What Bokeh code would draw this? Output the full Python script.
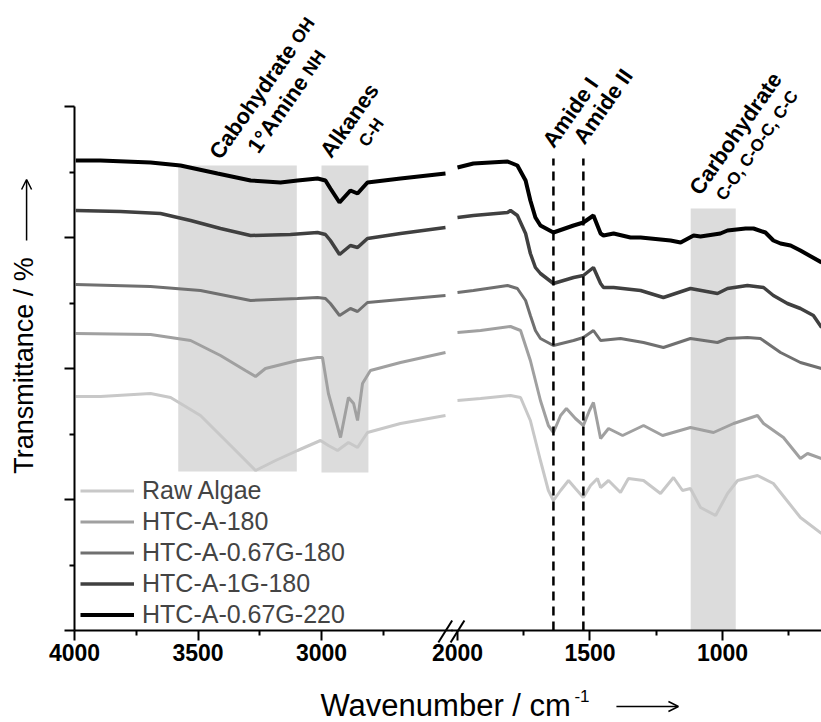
import math
from bokeh.plotting import figure
from bokeh.models import Range1d, FixedTicker, Legend, LegendItem, Label, Arrow, OpenHead, LinearAxis
from bokeh.embed import file_html
from bokeh.resources import INLINE

series_names = ["Raw Algae", "HTC-A-180", "HTC-A-0.67G-180", "HTC-A-1G-180", "HTC-A-0.67G-220"]
series_colors = ["#c8c8c8", "#a0a0a0", "#707070", "#404040", "#000000"]
series_widths = [3, 3, 3, 3.5, 4]

# ---- Raw Algae
raw_hi_wn = [3995, 3895, 3692, 3611, 3490, 3368, 3267, 3186, 3097, 3004, 2972, 2935, 2891, 2854, 2814, 2680, 2498]
raw_hi_t = [234, 234, 237, 233, 215, 185, 160, 170, 180, 190, 185, 180, 188, 183, 198, 207, 215]
raw_lo_wn = [2000, 1913, 1800, 1762, 1725, 1687, 1657, 1638, 1611, 1581, 1555, 1525, 1498, 1472, 1460, 1430,
             1385, 1355, 1298, 1234, 1185, 1151, 1121, 1083, 1026, 981, 943, 868, 808, 706, 626]
raw_lo_t = [230, 232, 235, 233, 210, 170, 140, 130, 140, 150, 142, 133, 145, 152, 143, 150,
            138, 152, 150, 137, 153, 140, 142, 123, 115, 137, 150, 155, 147, 113, 97]

# ---- HTC-A-180
a180_hi_wn = [3995, 3692, 3530, 3409, 3308, 3267, 3227, 3097, 3016, 2996, 2972, 2923, 2891, 2870, 2854, 2834, 2802, 2680, 2498]
a180_hi_t = [297, 296, 290, 275, 260, 254, 262, 270, 273, 273, 237, 193, 233, 227, 210, 247, 260, 268, 278]
a180_lo_wn = [2000, 1913, 1800, 1762, 1725, 1687, 1657, 1638, 1611, 1589, 1555, 1525, 1502, 1487, 1460, 1430,
              1377, 1298, 1226, 1121, 1034, 958, 868, 845, 770, 706, 679, 626]
a180_lo_t = [298, 300, 304, 300, 270, 230, 205, 198, 215, 222, 212, 205, 220, 228, 192, 202,
             195, 205, 195, 203, 198, 207, 215, 207, 193, 172, 177, 172]

# ---- HTC-A-0.67G-180
g067_hi_wn = [3995, 3692, 3490, 3287, 3097, 3016, 2984, 2964, 2927, 2883, 2854, 2814, 2680, 2498]
g067_hi_t = [346, 344, 340, 330, 332, 333, 332, 327, 315, 322, 319, 328, 331, 335]
g067_lo_wn = [2000, 1940, 1811, 1774, 1743, 1725, 1706, 1687, 1638, 1562, 1525, 1487, 1460, 1385, 1298, 1223,
              1121, 1019, 981, 906, 857, 781, 706, 626]
g067_lo_t = [338, 340, 345, 342, 330, 315, 300, 292, 285, 290, 293, 300, 290, 292, 288, 283,
             292, 288, 292, 293, 292, 278, 268, 262]

# ---- HTC-A-1G-180
g1_hi_wn = [3995, 3814, 3652, 3530, 3409, 3287, 3126, 3016, 2984, 2964, 2927, 2883, 2854, 2814, 2680, 2498]
g1_hi_t = [420, 419, 417, 410, 402, 395, 396, 398, 396, 390, 376, 385, 383, 392, 397, 403]
g1_lo_wn = [2000, 1940, 1811, 1800, 1774, 1743, 1725, 1706, 1687, 1638, 1562, 1525, 1487, 1460, 1449, 1411,
            1309, 1223, 1121, 1019, 981, 906, 845, 808, 755, 706, 657, 626]
g1_lo_t = [413, 415, 418, 420, 415, 397, 377, 363, 357, 347, 353, 355, 363, 347, 343, 343,
           340, 333, 342, 337, 342, 345, 343, 335, 327, 322, 315, 303]

# ---- HTC-A-0.67G-220
g220_hi_wn = [3995, 3895, 3692, 3571, 3421, 3287, 3166, 3097, 3016, 2984, 2964, 2927, 2883, 2854, 2814, 2680, 2498]
g220_hi_t = [470, 470, 468, 465, 457, 450, 448, 450, 452, 450, 442, 428, 440, 437, 448, 452, 457]
g220_lo_wn = [2000, 1940, 1811, 1774, 1743, 1725, 1706, 1687, 1638, 1562, 1525, 1487, 1460, 1449, 1411, 1347,
              1309, 1196, 1158, 1109, 1083, 1008, 981, 913, 883, 838, 808, 781, 743, 706, 626]
g220_lo_t = [463, 467, 469, 465, 450, 430, 413, 405, 398, 405, 408, 415, 397, 395, 397, 393,
             393, 390, 388, 395, 394, 397, 400, 402, 402, 398, 390, 387, 385, 380, 368]

hi_wn = [raw_hi_wn, a180_hi_wn, g067_hi_wn, g1_hi_wn, g220_hi_wn]
hi_t = [raw_hi_t, a180_hi_t, g067_hi_t, g1_hi_t, g220_hi_t]
lo_wn = [raw_lo_wn, a180_lo_wn, g067_lo_wn, g1_lo_wn, g220_lo_wn]
lo_t = [raw_lo_t, a180_lo_t, g067_lo_t, g1_lo_t, g220_lo_t]

# shaded bands (wavenumber ranges) and their vertical extent
band_hi_left = [3580, 3000]
band_hi_right = [3100, 2810]
band_hi_bottom = [159, 158]
band_hi_top = [465, 465]
band_lo_left = [1120]
band_lo_right = [950]
band_lo_bottom = [0]
band_lo_top = [422]

amide_wn = [1638, 1525]

x_ticks_hi = [4000, 3500, 3000]
x_minor_hi = [3750, 3250, 2750]
x_ticks_lo = [2000, 1500, 1000]
x_minor_lo = [1750, 1250, 750]
y_major = [0, 131, 262, 393, 524]
y_minor = [65.5, 196.5, 327.5, 458.5]

FONT = "Liberation Sans"
GRAY_BAND = "#dcdcdc"
ANGLE = math.radians(55)

p = figure(width=821, height=722, min_border=0, x_range=Range1d(4299.6, 975.7), y_range=Range1d(-92, 630),
           x_axis_location=None, y_axis_location=None, output_backend="svg", toolbar_location=None)
p.extra_x_ranges = {"lo": Range1d(3724.5, 626.4)}
p.outline_line_color = None
p.grid.visible = False


def style_axis(ax):
    ax.axis_line_width = 2
    ax.axis_line_color = "black"
    ax.major_tick_line_width = 2
    ax.minor_tick_line_width = 2
    ax.major_tick_out = 10
    ax.major_tick_in = 0
    ax.minor_tick_out = 5
    ax.minor_tick_in = 0
    ax.major_label_text_font = FONT
    ax.major_label_text_font_style = "bold"
    ax.major_label_text_font_size = "23px"
    ax.major_label_text_color = "black"
    ax.major_label_standoff = 3


ax_hi = LinearAxis(fixed_location=0, bounds=(2471, 4000), ticker=FixedTicker(ticks=x_ticks_hi, minor_ticks=x_minor_hi))
ax_lo = LinearAxis(fixed_location=0, bounds=(626, 2023), x_range_name="lo",
                   ticker=FixedTicker(ticks=x_ticks_lo, minor_ticks=x_minor_lo))
style_axis(ax_hi)
style_axis(ax_lo)
p.add_layout(ax_hi, "below")
p.add_layout(ax_lo, "below")

# y axis: label-free, long ticks and short ticks
ay_major = LinearAxis(fixed_location=4000, bounds=(0, 524), ticker=FixedTicker(ticks=[], minor_ticks=y_major))
ay_minor = LinearAxis(fixed_location=4000, bounds=(0, 524), ticker=FixedTicker(ticks=[], minor_ticks=y_minor))
style_axis(ay_major)
style_axis(ay_minor)
ay_major.minor_tick_out = 10
ay_minor.axis_line_color = None
p.add_layout(ay_major, "left")
p.add_layout(ay_minor, "left")

# bands
p.quad(left=band_hi_left, right=band_hi_right, bottom=band_hi_bottom, top=band_hi_top,
       fill_color=GRAY_BAND, line_color=None)
p.quad(left=band_lo_left, right=band_lo_right, bottom=band_lo_bottom, top=band_lo_top,
       fill_color=GRAY_BAND, line_color=None, x_range_name="lo")

legend_items = []
for i, name in enumerate(series_names):
    r = p.line(hi_wn[i], hi_t[i], line_color=series_colors[i], line_width=series_widths[i])
    p.line(lo_wn[i], lo_t[i], line_color=series_colors[i], line_width=series_widths[i], x_range_name="lo")
    legend_items.append(LegendItem(label=name, renderers=[r]))

# amide dashed lines
p.segment(x0=amide_wn, y0=[0, 0], x1=amide_wn, y1=[472, 472], line_color="black", line_width=2.5,
          line_dash="9 6", x_range_name="lo")

legend = Legend(items=legend_items, location=(80, 92), label_text_font=FONT, label_text_font_size="25px",
                glyph_width=54, glyph_height=31, label_height=31, label_standoff=8, spacing=0,
                padding=0, margin=0, border_line_alpha=0, background_fill_alpha=0)
p.add_layout(legend)


def ann(x, y, text, size="22px", rng="default", align="center"):
    p.add_layout(Label(x=x, y=y, text=text, angle=ANGLE, text_align=align, text_baseline="middle",
                       text_font=FONT, text_font_style="bold", text_font_size=size, text_color="black",
                       x_range_name=rng))


ann(3434, 474, "Cabohydrate", align="left")
ann(3107, 589, "OH", "18px", align="left")
ann(3280, 480, "1°Amine", align="left")
ann(3060, 557, "NH", "18px", align="left")
ann(2887, 510, "Alkanes")
ann(2798, 498, "C-H", "17px")
ann(1574, 518, "Amide I", rng="lo")
ann(1451, 524, "Amide II", rng="lo")
ann(951, 497, "Carbohydrate", rng="lo")
ann(869, 485, "C-O, C-O-C, C-C", "17px", rng="lo")

# y title and arrow
p.add_layout(Label(x=4204, y=265, text="Transmittance / %", angle=math.pi / 2, text_align="center",
                   text_baseline="middle", text_font=FONT, text_font_size="27px", text_color="black"))
p.add_layout(Arrow(end=OpenHead(size=10, line_width=1.5), x_start=4194, y_start=390, x_end=4194, y_end=451,
                   line_width=1.5))

# axis break marks
p.add_layout(Arrow(start=None, end=None, x_start=2527, y_start=-12, x_end=2471, y_end=10, line_width=2))
p.add_layout(Arrow(start=None, end=None, x_start=2026, y_start=-12, x_end=1974, y_end=10, line_width=2,
                   x_range_name="lo"))

# x title and arrow
p.add_layout(Label(x=3004, y=-75, text="Wavenumber / cm", text_font=FONT, text_font_size="31px",
                   text_baseline="middle", text_color="black"))
p.add_layout(Label(x=1976, y=-65, text="-1", text_font=FONT, text_font_size="17px",
                   text_baseline="middle", text_color="black"))
p.add_layout(Arrow(end=OpenHead(size=10, line_width=1.5), x_start=1806, y_start=-76, x_end=1555, y_end=-76,
                   line_width=1.5))

open("out.html", "w").write(file_html(p, INLINE))
